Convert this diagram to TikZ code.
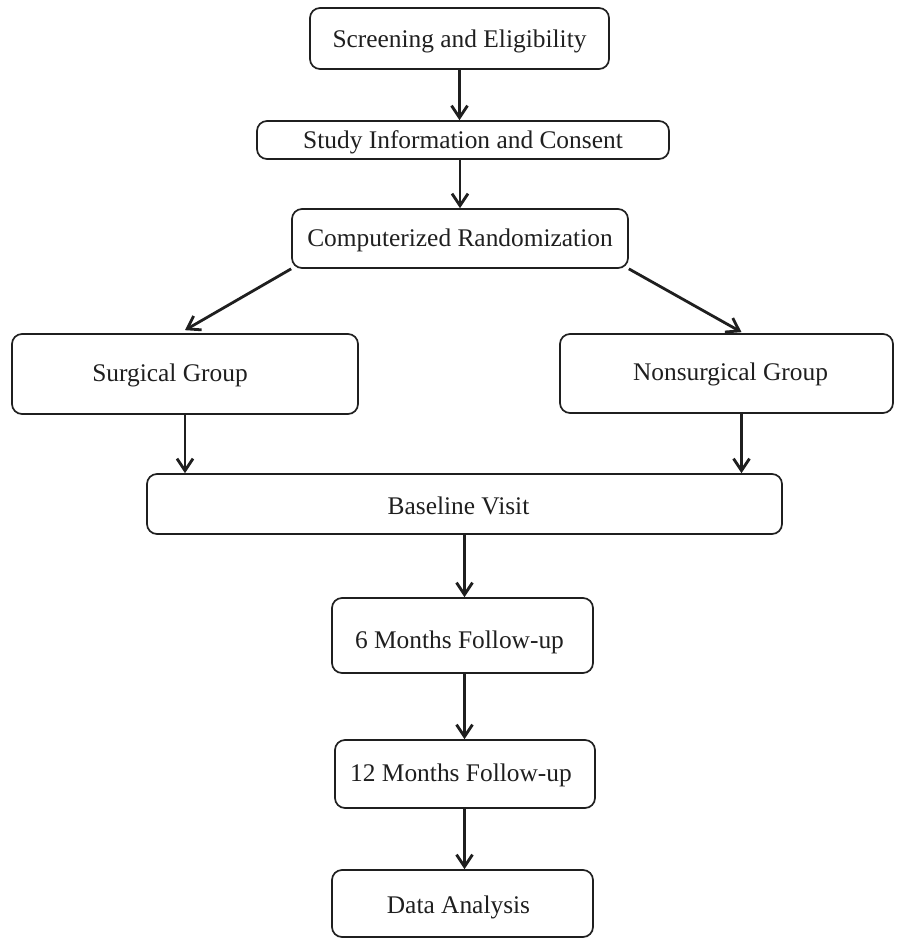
\documentclass[tikz,border=0pt]{standalone}
\usepackage{fontspec}
\setmainfont{Liberation Serif}
\usetikzlibrary{arrows.meta,calc}
\newcommand{\dn}[2]{\raisebox{-#1pt}[\height][\depth]{#2}}
\begin{document}
\begin{tikzpicture}[x=1pt,y=-1pt,
  box/.style={draw=black!88, line width=1.7pt, rounded corners=10pt, inner sep=0pt,
    font=\fontsize{25.4}{30}\selectfont, text=black!88},
  arr/.style={draw=black!88, line width=2.8pt, -{Straight Barb[length=12pt,width=16pt,line width=2.8pt]}}]
\useasboundingbox (0,0) rectangle (897,938);
\node[box, minimum width=299pt, minimum height=61pt] (screen) at (459.5,38.5) {\dn{3}{Screening and Eligibility}};
\node[box, minimum width=412pt, minimum height=38pt] (study) at (463,140) {\dn{2}{Study Information and Consent}};
\node[box, minimum width=336pt, minimum height=59pt] (comp) at (460,238.5) {\dn{2}{Computerized Randomization}};
\node[box, minimum width=346pt, minimum height=80pt] (surg) at (185,374) {\dn{1}{Surgical Group}\hspace*{30pt}};
\node[box, minimum width=333pt, minimum height=79pt] (nons) at (726.5,373.5) {\hspace*{8pt}\dn{1}{Nonsurgical Group}};
\node[box, minimum width=635pt, minimum height=60pt] (base) at (464.5,504) {\dn{2}{Baseline Visit}\hspace*{12pt}};
\node[box, minimum width=261pt, minimum height=75pt] (m6) at (462.5,635.5) {\dn{7}{6 Months Follow-up}\hspace*{6pt}};
\node[box, minimum width=260pt, minimum height=68pt] (m12) at (465,774) {\dn{1}{12 Months Follow-up}\hspace*{8pt}};
\node[box, minimum width=261pt, minimum height=67pt] (data) at (462.5,903.5) {\dn{4}{Data Analysis}\hspace*{8pt}};
\coordinate (nsin) at ($(nons.north)+(15,-1)$);
\coordinate (nsout) at ($(nons.south)+(15,0)$);
\draw[arr] (screen.south) -- (screen.south |- study.north);
\draw[arr] (comp.north |- study.south) -- (comp.north);
\draw[arr] (comp.south west) -- ($(surg.north)+(0,-3)$);
\draw[arr] (comp.south east) -- (nsin);
\draw[arr] (surg.south) -- (surg.south |- base.north);
\draw[arr] (nsout) -- (nsout |- base.north);
\draw[arr] (base.south) -- (base.south |- m6.north);
\draw[arr] (m6.south -| base.south) -- (base.south |- m12.north);
\draw[arr] (m12.south -| base.south) -- (base.south |- data.north);
\end{tikzpicture}
\end{document}
